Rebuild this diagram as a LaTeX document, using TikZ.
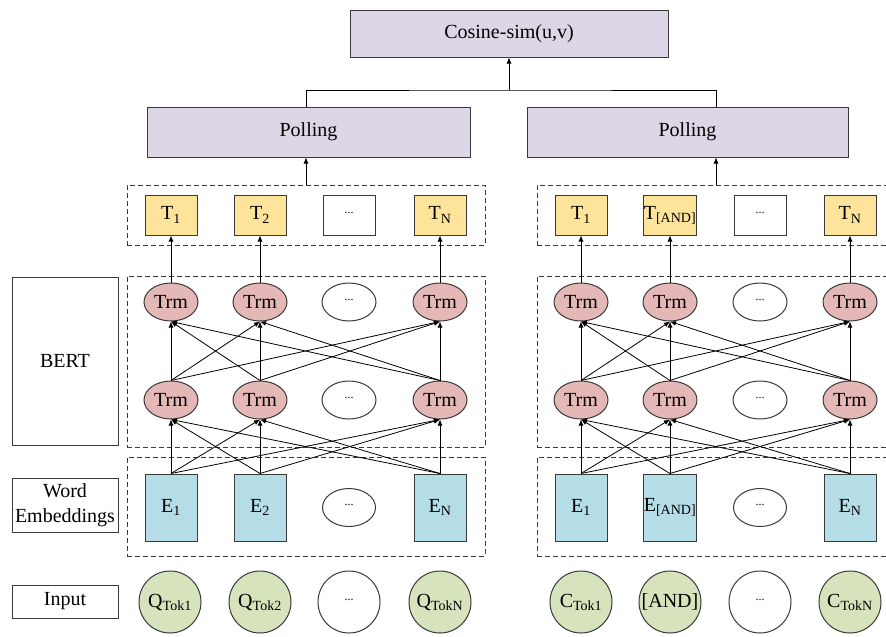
\documentclass[tikz,border=0pt]{standalone}
\usepackage{fontspec}
\setmainfont{Liberation Serif}
\usetikzlibrary{arrows.meta,shapes.geometric}
\usepackage{xcolor}
\definecolor{simLilac}{HTML}{DCD6E6}
\definecolor{outGold}{HTML}{FDE49A}
\definecolor{trmRose}{HTML}{E4B8B6}
\definecolor{embBlue}{HTML}{B5DDE8}
\definecolor{tokGreen}{HTML}{D7E3BC}
\definecolor{edgeGrey}{HTML}{3A3A3A}
\newcommand{\midots}{{\fontsize{12}{12}\selectfont\raisebox{5pt}{...}}}

\begin{document}
\begin{tikzpicture}[x=1pt,y=-1pt,
  font=\rmfamily\fontsize{20}{25}\selectfont,
  head/.style={draw=edgeGrey,line width=1pt,fill=simLilac},
  outbox/.style={draw=edgeGrey,line width=1pt,fill=outGold,minimum width=52pt,minimum height=40pt,inner sep=0pt},
  trm/.style={draw=edgeGrey,line width=1pt,ellipse,fill=trmRose,minimum width=54pt,minimum height=38pt,inner sep=0pt},
  embbox/.style={draw=edgeGrey,line width=1pt,fill=embBlue,minimum width=52pt,minimum height=67pt,inner sep=0pt},
  tok/.style={draw=edgeGrey,line width=1pt,circle,fill=tokGreen,minimum size=62pt,inner sep=0pt},
  group/.style={draw=edgeGrey,line width=1pt,dash pattern=on 5pt off 3pt,minimum width=358pt},
  side/.style={draw=edgeGrey,line width=1pt,minimum width=106pt,inner xsep=1pt,align=center},
  link/.style={-{Latex[length=6pt,width=5pt]},line width=0.8pt,black}]

\useasboundingbox (0,0) rectangle (886,637);

% similarity and pooling
\node[head,minimum width=318pt,minimum height=47pt] (cos) at (509,33.5) {Cosine-sim(u,v)};
\node[head,minimum width=323pt,minimum height=50pt] (qpool) at (308.5,132) {Polling};
\node[head,minimum width=321pt,minimum height=50pt] (cpool) at (687.5,132) {Polling};
\coordinate (join) at (509,90);

% dashed groups
\node[group,minimum height=60pt] (qtop) at (306,215) {};
\node[group,minimum height=171pt] (qbert) at (306,361.5) {};
\node[group,minimum height=99pt] (qword) at (306,506.5) {};
\node[group,minimum height=60pt] (ctop) at (716,215) {};
\node[group,minimum height=171pt] (cbert) at (716,361.5) {};
\node[group,minimum height=99pt] (cword) at (716,506.5) {};

% row labels
\node[side,minimum height=168pt] (bert) at (65,361) {BERT};
\node[side,minimum height=54pt] (word) at (65,505) {Word\\Embeddings};
\node[side,minimum height=33pt] (input) at (65,601.5) {Input};

% query side
\node[outbox] (qt1) at (171,215) {T\textsubscript{1}};
\node[outbox] (qt2) at (260,215) {T\textsubscript{2}};
\node[outbox,fill=white] (qtd) at (349,215) {\midots};
\node[outbox] (qtn) at (440,215) {T\textsubscript{N}};

\node[trm] (qu1) at (171,302) {Trm};
\node[trm] (qu2) at (260,302) {Trm};
\node[trm,fill=white] (qud) at (349,302) {\midots};
\node[trm] (qun) at (440,302) {Trm};

\node[trm] (ql1) at (171,400) {Trm};
\node[trm] (ql2) at (260,400) {Trm};
\node[trm,fill=white] (qld) at (349,400) {\midots};
\node[trm] (qln) at (440,400) {Trm};

\node[embbox] (qe1) at (171,507.5) {E\textsubscript{1}};
\node[embbox] (qe2) at (260,507.5) {E\textsubscript{2}};
\node[trm,fill=white,minimum width=53pt] (qed) at (349,507.5) {\midots};
\node[embbox] (qen) at (440,507.5) {E\textsubscript{N}};

\node[tok] (qi1) at (170,602) {Q\textsubscript{Tok1}};
\node[tok] (qi2) at (260,602) {Q\textsubscript{Tok2}};
\node[tok,fill=white] (qid) at (349,602) {\midots};
\node[tok] (qin) at (440,602) {Q\textsubscript{TokN}};

% candidate side
\node[outbox] (ct1) at (581,215) {T\textsubscript{1}};
\node[outbox] (ct2) at (670,215) {T\textsubscript{[AND]}};
\node[outbox,fill=white] (ctd) at (760,215) {\midots};
\node[outbox] (ctn) at (850,215) {T\textsubscript{N}};

\node[trm] (cu1) at (581,302) {Trm};
\node[trm] (cu2) at (670,302) {Trm};
\node[trm,fill=white] (cud) at (760,302) {\midots};
\node[trm] (cun) at (850,302) {Trm};

\node[trm] (cl1) at (581,400) {Trm};
\node[trm] (cl2) at (670,400) {Trm};
\node[trm,fill=white] (cld) at (760,400) {\midots};
\node[trm] (cln) at (850,400) {Trm};

\node[embbox] (ce1) at (581,507.5) {E\textsubscript{1}};
\node[embbox] (ce2) at (670,507.5) {E\textsubscript{[AND]}};
\node[trm,fill=white,minimum width=53pt] (ced) at (760,507.5) {\midots};
\node[embbox] (cen) at (850,507.5) {E\textsubscript{N}};

\node[tok] (ci1) at (581,602) {C\textsubscript{Tok1}};
\node[tok] (ci2) at (670,602) {[AND]};
\node[tok,fill=white] (cid) at (760,602) {\midots};
\node[tok] (cin) at (850,602) {C\textsubscript{TokN}};

% top connectors
\draw[link] (qtop.north) -- (qtop.north |- qpool.south);
\draw[link] (ctop.north) -- (ctop.north |- cpool.south);
\draw[line width=0.8pt] (qtop.north |- qpool.north) |- (join) -| (ctop.north |- cpool.north);
\draw[link] (join) -- (cos.south);

% query: trm -> outputs
\draw[link] (qu1.north) -- (qt1.south);
\draw[link] (qu2.north) -- (qt2.south);
\draw[link] (qun.north) -- (qtn.south);

% query: lower -> upper trm
\draw[link] (ql1.north) -- (qu1.south);
\draw[link] (ql1.north) -- (qu2.south);
\draw[link] (ql1.north) -- (qun.south);
\draw[link] (ql2.north) -- (qu1.south);
\draw[link] (ql2.north) -- (qu2.south);
\draw[link] (ql2.north) -- (qun.south);
\draw[link] (qln.north) -- (qu1.south);
\draw[link] (qln.north) -- (qu2.south);
\draw[link] (qln.north) -- (qun.south);

% query: embeddings -> lower trm
\draw[link] (qe1.north) -- (ql1.south);
\draw[link] (qe1.north) -- (ql2.south);
\draw[link] (qe1.north) -- (qln.south);
\draw[link] (qe2.north) -- (ql1.south);
\draw[link] (qe2.north) -- (ql2.south);
\draw[link] (qe2.north) -- (qln.south);
\draw[link] (qen.north) -- (ql1.south);
\draw[link] (qen.north) -- (ql2.south);
\draw[link] (qen.north) -- (qln.south);

% candidate: trm -> outputs
\draw[link] (cu1.north) -- (ct1.south);
\draw[link] (cu2.north) -- (ct2.south);
\draw[link] (cun.north) -- (ctn.south);

% candidate: lower -> upper trm
\draw[link] (cl1.north) -- (cu1.south);
\draw[link] (cl1.north) -- (cu2.south);
\draw[link] (cl1.north) -- (cun.south);
\draw[link] (cl2.north) -- (cu1.south);
\draw[link] (cl2.north) -- (cu2.south);
\draw[link] (cl2.north) -- (cun.south);
\draw[link] (cln.north) -- (cu1.south);
\draw[link] (cln.north) -- (cu2.south);
\draw[link] (cln.north) -- (cun.south);

% candidate: embeddings -> lower trm
\draw[link] (ce1.north) -- (cl1.south);
\draw[link] (ce1.north) -- (cl2.south);
\draw[link] (ce1.north) -- (cln.south);
\draw[link] (ce2.north) -- (cl1.south);
\draw[link] (ce2.north) -- (cl2.south);
\draw[link] (ce2.north) -- (cln.south);
\draw[link] (cen.north) -- (cl1.south);
\draw[link] (cen.north) -- (cl2.south);
\draw[link] (cen.north) -- (cln.south);
\end{tikzpicture}
\end{document}
